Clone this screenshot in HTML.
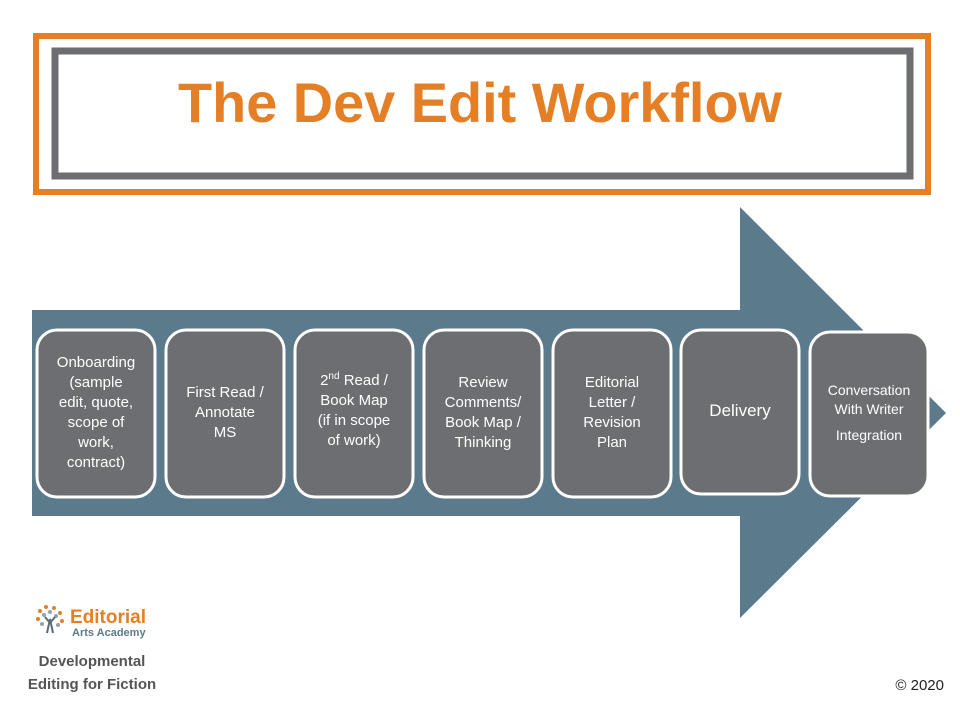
<!DOCTYPE html>
<html><head><style>body{margin:0;background:#fff}svg{display:block}</style></head>
<body>
<svg width="960" height="720" viewBox="0 0 960 720" xmlns="http://www.w3.org/2000/svg" font-family="Liberation Sans, sans-serif">
<rect x="36" y="36" width="892" height="156" fill="none" stroke="#e57f26" stroke-width="6"/>
<rect x="55" y="51" width="855" height="125" fill="#fff" stroke="#6d6e71" stroke-width="7"/>
<text x="480" y="122" text-anchor="middle" font-size="56" font-weight="bold" fill="#e57f26" textLength="604" lengthAdjust="spacingAndGlyphs">The Dev Edit Workflow</text>
<polygon points="32,310 740,310 740,207 946,413 740,618 740,516 32,516" fill="#5b7a8c"/>
<g stroke="#fff" stroke-width="3" fill="#6d6e71">
<rect x="37" y="330" width="118" height="167" rx="20"/>
<rect x="166" y="330" width="118" height="167" rx="20"/>
<rect x="295" y="330" width="118" height="167" rx="20"/>
<rect x="424" y="330" width="118" height="167" rx="20"/>
<rect x="553" y="330" width="118" height="167" rx="20"/>
<rect x="681" y="330" width="118" height="164" rx="20"/>
<rect x="810" y="332" width="118" height="164" rx="20"/>
</g>
<g fill="#fff" font-size="15" text-anchor="middle">
<text x="96" y="367">Onboarding</text><text x="96" y="387">(sample</text><text x="96" y="407">edit, quote,</text><text x="96" y="427">scope of</text><text x="96" y="447">work,</text><text x="96" y="467">contract)</text>
<text x="225" y="397">First Read /</text><text x="225" y="417">Annotate</text><text x="225" y="437">MS</text>
<text x="354" y="385">2<tspan font-size="10" dy="-6">nd</tspan><tspan dy="6"> Read /</tspan></text><text x="354" y="405">Book Map</text><text x="354" y="425">(if in scope</text><text x="354" y="445">of work)</text>
<text x="483" y="387">Review</text><text x="483" y="407">Comments/</text><text x="483" y="427">Book Map /</text><text x="483" y="447">Thinking</text>
<text x="612" y="387">Editorial</text><text x="612" y="407">Letter /</text><text x="612" y="427">Revision</text><text x="612" y="447">Plan</text>
<text x="740" y="416" font-size="17">Delivery</text>
<text x="869" y="395" font-size="14">Conversation</text><text x="869" y="414" font-size="14">With Writer</text><text x="869" y="440" font-size="14">Integration</text>
</g>
<g transform="translate(50,619)">
<g fill="#e57f26"><circle cx="-10" cy="-8" r="2"/><circle cx="-4" cy="-12" r="2"/><circle cx="4" cy="-11" r="2"/><circle cx="10" cy="-6" r="2"/><circle cx="-12" cy="0" r="2"/><circle cx="12" cy="2" r="2"/></g>
<g fill="#8fa3b3"><circle cx="-6" cy="-4" r="2"/><circle cx="6" cy="-3" r="2"/><circle cx="0" cy="-7" r="2"/><circle cx="-8" cy="5" r="2"/><circle cx="8" cy="6" r="2"/></g>
<path d="M-3 14 L0 0 L3 14 M0 4 L-5 -2 M0 4 L5 -2" stroke="#5b6b78" stroke-width="2" fill="none"/>
</g>
<text x="70" y="623" font-size="19" font-weight="bold" fill="#e57f26">Editorial</text>
<text x="72" y="636" font-size="11" font-weight="bold" fill="#5b7a8c">Arts Academy</text>
<text x="92" y="666" font-size="15" font-weight="bold" fill="#555" text-anchor="middle">Developmental</text>
<text x="92" y="689" font-size="15" font-weight="bold" fill="#555" text-anchor="middle">Editing for Fiction</text>
<text x="944" y="690" font-size="15" fill="#222" text-anchor="end">© 2020</text>
</svg>
</body></html>
